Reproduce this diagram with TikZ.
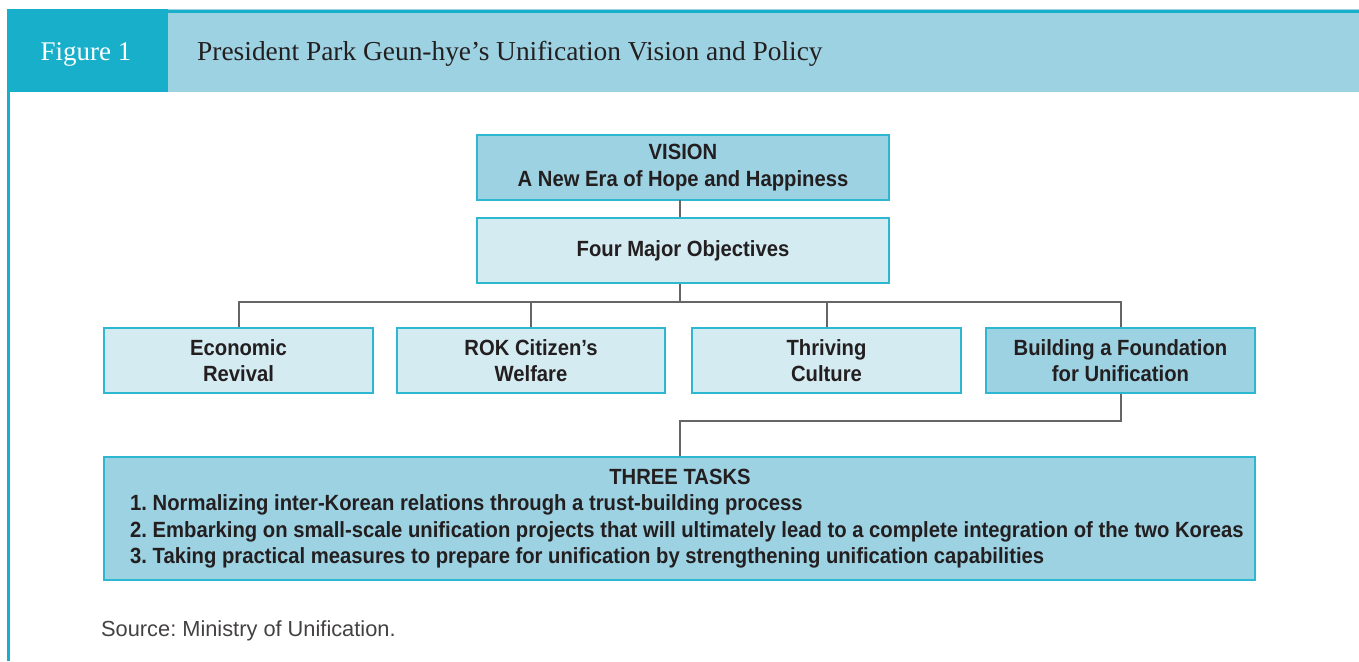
\documentclass[tikz,border=0pt]{standalone}
\usepackage{fontspec}
\setmainfont{Liberation Serif}
\newfontfamily\boxfont{Liberation Sans}[FakeStretch=0.92]
\newfontfamily\srcfont{Liberation Sans}
\definecolor{hdrteal}{HTML}{17AFC9}
\definecolor{hdrlight}{HTML}{9DD2E3}
\definecolor{boxlight}{HTML}{D4EBF2}
\definecolor{boxmid}{HTML}{9DD2E3}
\definecolor{bordc}{HTML}{2DB7D0}
\definecolor{linec}{HTML}{666666}
\definecolor{txt}{HTML}{231F20}
\tikzset{
  boxnode/.style={draw=bordc, line width=1.3pt, inner sep=0pt, align=center,
    text=txt, font=\boxfont\bfseries\fontsize{22}{26.5}\selectfont},
  lightbox/.style={boxnode, fill=boxlight},
  midbox/.style={boxnode, fill=boxmid},
  conn/.style={draw=linec, line width=2pt},
  boxtext/.style={inner sep=0pt, text=txt, font=\boxfont\bfseries\fontsize{22}{26.5}\selectfont}
}
\begin{document}
\frenchspacing
\begin{tikzpicture}[x=1pt,y=-1pt]
\useasboundingbox (0,0) rectangle (1359,661);
\fill[white] (0,0) rectangle (1359,661);
% header
\fill[hdrlight] (7,9) rectangle (1359,92);
\fill[hdrteal] (7,9) rectangle (168,92);
\fill[hdrteal] (168,10) rectangle (1359,12.7);
\fill[hdrteal] (7,92) rectangle (9.5,661);
\node[anchor=base, inner sep=0pt, text=white, font=\fontsize{27}{31}\selectfont] (fig) at (86,60) {Figure 1};
\node[anchor=base west, inner sep=0pt, text=txt, font=\fontsize{27.4}{31}\selectfont] (title) at (197,60) {President Park Geun-hye’s Unification Vision and Policy};
% boxes
\node[midbox, minimum width=412pt, minimum height=65pt] (vision) at (683,167.5) {VISION\\A New Era of Hope and Happiness};
\node[lightbox, minimum width=412pt, minimum height=65pt] (four) at (683,250.5) {Four Major Objectives};
\node[lightbox, minimum width=269pt, minimum height=65pt] (b1) at (238.5,360.5) {Economic\\Revival};
\node[lightbox, minimum width=268pt, minimum height=65pt] (b2) at (531,360.5) {ROK Citizen’s\\Welfare};
\node[lightbox, minimum width=269pt, minimum height=65pt] (b3) at (826.5,360.5) {Thriving\\Culture};
\node[midbox, minimum width=269pt, minimum height=65pt] (b4) at (1120.5,360.5) {Building a Foundation\\for Unification};
\node[midbox, minimum width=1151pt, minimum height=123pt] (tasks) at (679.5,518.5) {};
\node[boxtext, anchor=base] (tasktitle) at (680,484) {THREE TASKS};
\node[boxtext, anchor=base west, align=left] (t1) at (130,510.7) {1. Normalizing inter-Korean relations through a trust-building process};
\node[boxtext, anchor=base west, align=left] (t2) at (130,537.2) {2. Embarking on small-scale unification projects that will ultimately lead to a complete integration of the two Koreas};
\node[boxtext, anchor=base west, align=left] (t3) at (130,563.7) {3. Taking practical measures to prepare for unification by strengthening unification capabilities};
% connectors
\coordinate (vtop) at (680,200);
\coordinate (bus) at (680,302);
\coordinate (tk) at (680,421);
\draw[conn] (vtop) -- (vtop |- four.north);
\draw[conn] (bus |- four.south) -- (bus);
\draw[conn] (b1.north) |- (bus) -| (b4.north);
\draw[conn] (b2.north) -- (b2.north |- bus);
\draw[conn] (b3.north) -- (b3.north |- bus);
\draw[conn] (b4.south) |- (tk) -- (tk |- tasks.north);
% source
\node[anchor=base west, inner sep=0pt, text=txt!85, font=\srcfont\fontsize{21.8}{25}\selectfont] (src) at (101,636) {Source: Ministry of Unification.};
\end{tikzpicture}
\end{document}
